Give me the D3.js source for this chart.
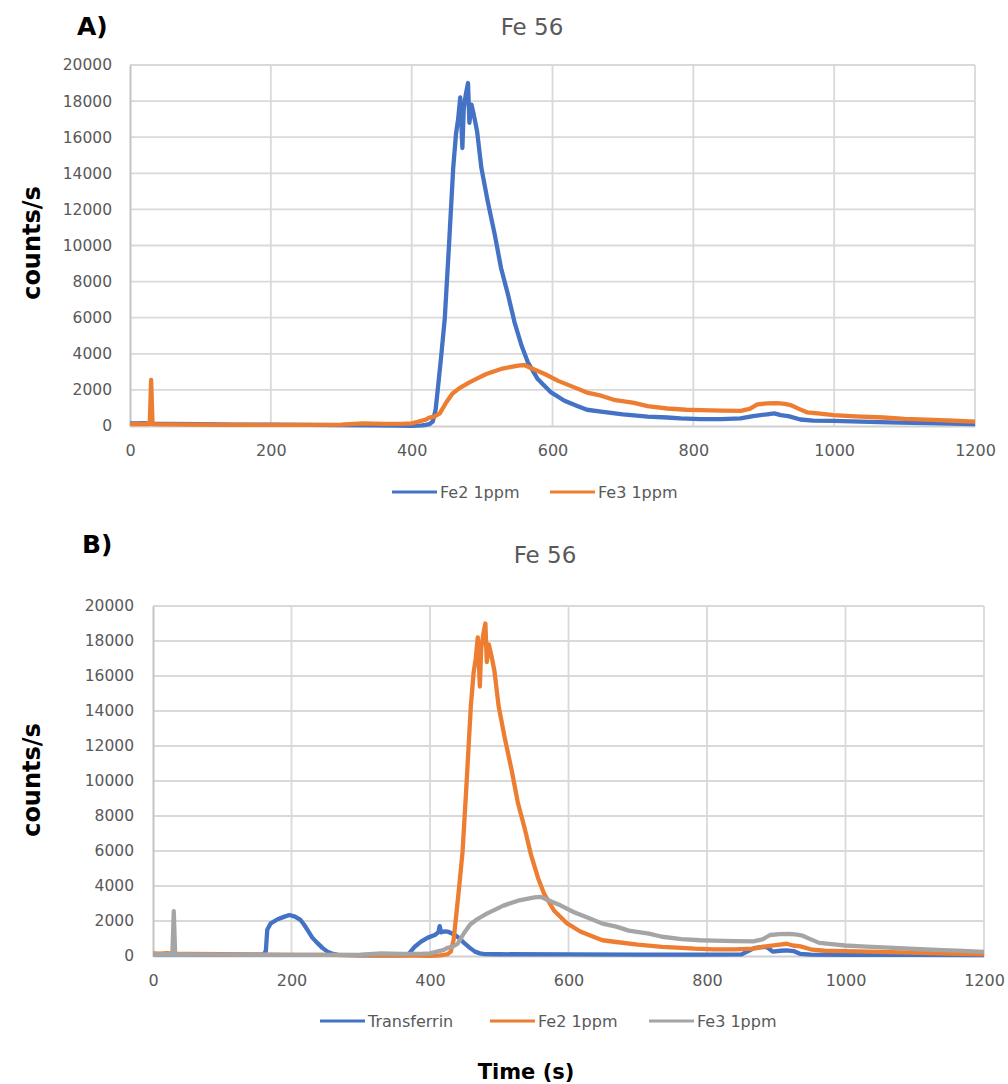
<!DOCTYPE html>
<html><head><meta charset="utf-8">
<script src="https://cdn.jsdelivr.net/npm/d3@7"></script>
<style>body{margin:0;background:#fff;} svg{display:block;}</style>
</head><body>
<svg id="c" width="1008" height="1084"></svg>
<script>
// ---- data ----
const xTicks = [0, 200, 400, 600, 800, 1000, 1200];
const yTicks = [0, 2000, 4000, 6000, 8000, 10000, 12000, 14000, 16000, 18000, 20000];

const fe2Time = [0,10,20,30,50,100,150,200,250,300,350,380,400,415,420,425,430,434,437,442,447,453,459,463,466,469,472,474,477,480,482,485,489,493,499,508,518,527,537,546,556,565,579,598,617,636,649,669,700,735,763,782,810,840,867,885,905,915,924,935,952,970,999,1050,1094,1150,1200];
const fe2Vals = [150,140,160,130,120,100,80,70,60,50,40,20,10,30,60,100,250,900,2000,3900,5950,10000,14300,16200,17000,18200,15400,17600,18400,19000,16800,17800,17100,16300,14300,12450,10600,8740,7250,5760,4460,3530,2600,1860,1400,1100,900,800,650,520,470,420,380,380,420,550,650,700,600,550,360,300,280,230,190,140,100];

const fe3Time = [0,20,28,30,32,50,100,200,250,300,330,360,390,400,410,420,425,432,440,449,458,468,482,494,506,527,551,560,570,589,608,631,649,669,687,716,735,763,790,810,840,867,880,891,905,919,930,938,950,962,980,999,1030,1070,1100,1141,1170,1200];
const fe3Vals = [100,110,100,2560,100,90,80,60,60,80,150,120,130,150,250,350,460,520,700,1300,1800,2100,2420,2650,2880,3160,3350,3380,3200,2880,2500,2140,1850,1680,1450,1280,1100,970,900,880,850,840,950,1200,1250,1270,1220,1160,950,750,680,600,530,470,400,340,290,240];

const trfTime = [0,50,100,150,160,163,165,170,180,190,197,205,213,218,223,230,238,245,252,260,267,300,350,368,372,378,387,397,407,412,414,416,420,426,431,436,443,450,458,465,472,479,500,600,700,800,850,868,880,887,895,906,915,925,935,950,1000,1100,1200];
const trfVals = [100,90,80,80,80,300,1500,1870,2100,2250,2340,2250,2060,1800,1490,1050,720,450,250,120,60,40,40,50,250,530,820,1050,1200,1350,1710,1350,1400,1390,1300,1200,1000,720,450,250,150,110,100,90,80,80,90,450,520,500,250,300,320,280,120,80,70,60,50];

const seriesA = [
  {name: "Fe2 1ppm", t: fe2Time, v: fe2Vals, color: "#4472C4"},
  {name: "Fe3 1ppm", t: fe3Time, v: fe3Vals, color: "#ED7D31"}
];
const seriesB = [
  {name: "Transferrin", t: trfTime, v: trfVals, color: "#4472C4"},
  {name: "Fe2 1ppm", t: fe2Time, v: fe2Vals, color: "#ED7D31"},
  {name: "Fe3 1ppm", t: fe3Time, v: fe3Vals, color: "#A5A5A5"}
];

const svg = d3.select("#c");
const FONT = "'DejaVu Sans', Verdana, sans-serif";
const GRAY_TXT = "#595959";

function panel(cfg) {
  const x = d3.scaleLinear().domain([0, 1200]).range([cfg.x0, cfg.x1]);
  const y = d3.scaleLinear().domain([0, 20000]).range([cfg.y0, cfg.y1]);
  const g = svg.append("g");

  // gridlines
  g.append("g").selectAll("line").data(yTicks.slice(1)).join("line")
    .attr("x1", cfg.x0).attr("x2", cfg.x1)
    .attr("y1", d => y(d)).attr("y2", d => y(d))
    .attr("stroke", "#d9d9d9").attr("stroke-width", 1.8);
  g.append("g").selectAll("line").data(xTicks.slice(1)).join("line")
    .attr("x1", d => x(d)).attr("x2", d => x(d))
    .attr("y1", cfg.y0).attr("y2", cfg.y1)
    .attr("stroke", "#d9d9d9").attr("stroke-width", 1.8);

  // axes via d3
  const ax = g.append("g").attr("transform", `translate(0,${cfg.y0})`)
    .call(d3.axisBottom(x).tickValues(xTicks).tickSize(0).tickPadding(19).tickFormat(d3.format("d")));
  ax.select(".domain").attr("stroke", "#d0d0d0").attr("stroke-width", 1.8);
  ax.selectAll("text").attr("font-family", FONT).attr("font-size", 16).attr("fill", GRAY_TXT);

  const ay = g.append("g").attr("transform", `translate(${cfg.x0},0)`)
    .call(d3.axisLeft(y).tickValues(yTicks).tickSize(0).tickPadding(cfg.yPad).tickFormat(d3.format("d")));
  ay.select(".domain").attr("stroke", "#c4c4c4").attr("stroke-width", 2);
  ay.selectAll("text").attr("font-family", FONT).attr("font-size", 15.5).attr("fill", GRAY_TXT);

  // lines
  const line = d3.line().x(d => x(d[0])).y(d => y(d[1]));
  cfg.series.forEach(s => {
    const pts = s.t.map((t, i) => [t, s.v[i]]);
    g.append("path").datum(pts).attr("d", line)
      .attr("fill", "none").attr("stroke", s.color)
      .attr("stroke-width", 4.3).attr("stroke-linejoin", "round");
  });

  // title
  svg.append("text").attr("x", cfg.titleX).attr("y", cfg.titleY)
    .attr("text-anchor", "middle").attr("font-family", FONT)
    .attr("font-size", 23).attr("fill", GRAY_TXT).text("Fe 56");
  // panel label
  svg.append("text").attr("x", cfg.labX).attr("y", cfg.labY)
    .attr("font-family", FONT).attr("font-weight", "bold")
    .attr("font-size", 25).attr("fill", "#000").text(cfg.lab);
  // y label
  svg.append("text").attr("transform", `translate(${cfg.ylX},${cfg.ylY}) rotate(-90)`)
    .attr("text-anchor", "middle").attr("font-family", FONT).attr("font-weight", "bold")
    .attr("font-size", 24).attr("fill", "#000").text("counts/s");

  // legend
  const lg = svg.append("g");
  cfg.series.forEach((s, i) => {
    const lx = cfg.legX[i];
    lg.append("line").attr("x1", lx).attr("x2", lx + cfg.legLen)
      .attr("y1", cfg.legY).attr("y2", cfg.legY)
      .attr("stroke", s.color).attr("stroke-width", 3);
    lg.append("text").attr("x", lx + cfg.legLen + 3).attr("y", cfg.legY + cfg.legFs * 0.36)
      .attr("font-family", FONT).attr("font-size", cfg.legFs).attr("fill", GRAY_TXT).text(s.name);
  });
}

panel({x0: 130, x1: 975, y0: 426, y1: 65, yPad: 18, series: seriesA,
  titleX: 532, titleY: 35, lab: "A)", labX: 77, labY: 35,
  ylX: 40, ylY: 243, legY: 492, legX: [392, 550], legLen: 45, legFs: 16});

panel({x0: 153, x1: 984, y0: 956, y1: 606, yPad: 19, series: seriesB,
  titleX: 545, titleY: 563, lab: "B)", labX: 82, labY: 553,
  ylX: 40, ylY: 780, legY: 1021, legX: [320, 490, 649], legLen: 45, legFs: 16});

svg.append("text").attr("x", 526).attr("y", 1079)
  .attr("text-anchor", "middle").attr("font-family", FONT).attr("font-weight", "bold")
  .attr("font-size", 21).attr("fill", "#000").text("Time (s)");
</script>
</body></html>
